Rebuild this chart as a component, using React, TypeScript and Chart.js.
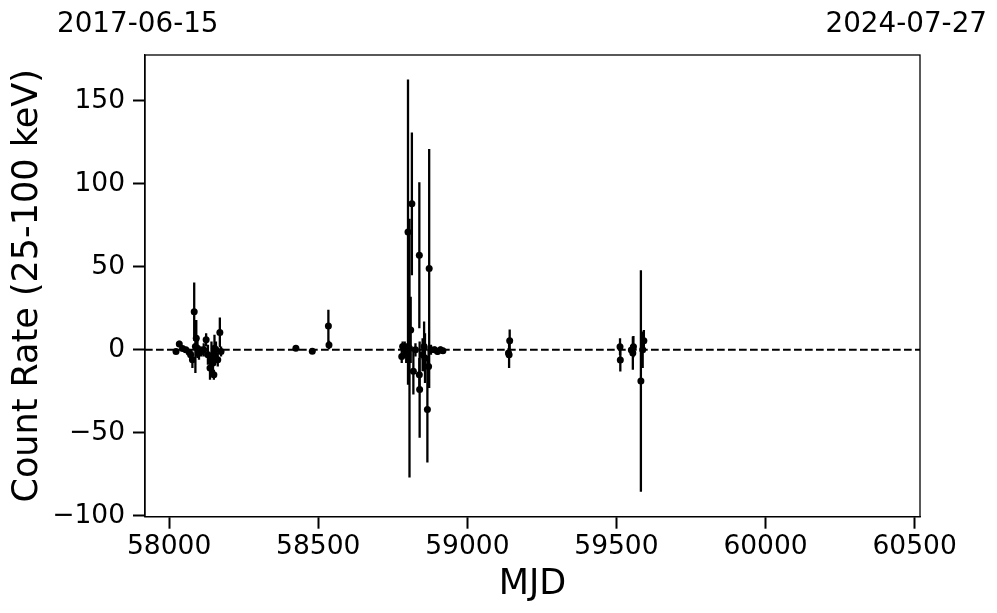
import React, { useEffect, useRef } from "react";
import { Chart, registerables } from "chart.js";

Chart.register(...registerables);

// ---- Data ----
const MJD = [
  58023, 58034, 58045, 58056, 58067, 58072, 58078, 58084, 58088, 58091, 58095, 58100,
  58108, 58116, 58124, 58130, 58137, 58142, 58147, 58150, 58152, 58157, 58163, 58170, 58174,
  58425, 58480, 58534, 58536,
  58780, 58783, 58790, 58795, 58801, 58806, 58810, 58814, 58819, 58826, 58839, 58839,
  58840, 58850, 58855, 58858, 58866, 58872, 58870, 58878, 58890, 58900, 58910, 58918,
  59138, 59140, 59142,
  59512, 59513, 59550, 59555, 59557, 59582, 59588, 59592,
];
const RATE = [
  -1, 3.5, 0.8, 0, -1.5, -3, -6, 23, 2, 7, 1, -2,
  -1, 0, 6, -3, -11, -5, -8, -15, 1, 0, -6, 10.5, -1,
  0.9, -0.8, 14.3, 2.9,
  -4, 2, 0, -2, 71, 1, 12, 88, -13, 0, 57, -15,
  -24, -3, 2, -5, -36, 49, -10, 0, 0, -1, 0, -0.5,
  -2, -3, 5.5,
  1.9, -6.1, -0.1, -2, 1.9, -18.8, 0, 5.5,
];
const ERR = [
  1.5, 2, 1.5, 1.5, 2, 3, 5, 17.5, 16, 11, 6, 4,
  3, 4, 4, 6, 7, 10, 9, 3, 8, 5, 4, 9, 3,
  1, 1, 9.8, 2.5,
  4, 3, 5, 6, 92, 78, 20, 43, 14, 4, 44, 10,
  29, 10, 15, 15, 32, 72, 12, 3, 2, 2, 2, 1.5,
  3, 8, 6.8,
  5, 7, 3, 10, 6.4, 66.7, 11, 6.5,
];
const X_TICKS = [58000, 58500, 59000, 59500, 60000, 60500];
const Y_TICKS = [-100, -50, 0, 50, 100, 150];
const X_RANGE = [57919, 60518];
const Y_RANGE = [-100.6, 177.7];
const DATE_LABELS = ["2017-06-15", "2024-07-27"];
const X_TITLE = "MJD";
const Y_TITLE = "Count Rate (25-100 keV)";

const FONT = "'DejaVu Sans', sans-serif";

const fmt = (v: number) => (v < 0 ? "\u2212" + Math.abs(v) : String(v));

const errorBarPlugin = {
  id: "errorBars",
  beforeDatasetsDraw(chart: any) {
    const { ctx, scales, chartArea } = chart;
    const xs = scales.x;
    const ys = scales.y;
    ctx.save();
    ctx.beginPath();
    ctx.rect(chartArea.left, chartArea.top, chartArea.right - chartArea.left, chartArea.bottom - chartArea.top);
    ctx.clip();
    ctx.strokeStyle = "#000";
    ctx.lineWidth = 2.3;
    ctx.lineCap = "butt";
    for (let i = 0; i < MJD.length; i++) {
      const x = xs.getPixelForValue(MJD[i]);
      const y1 = ys.getPixelForValue(RATE[i] - ERR[i]);
      const y2 = ys.getPixelForValue(RATE[i] + ERR[i]);
      ctx.beginPath();
      ctx.moveTo(x, y1);
      ctx.lineTo(x, y2);
      ctx.stroke();
    }
    ctx.restore();
  },
};

const framePlugin = {
  id: "frame",
  afterDraw(chart: any) {
    const { ctx, chartArea } = chart;
    ctx.save();
    ctx.strokeStyle = "#000";
    ctx.lineWidth = 1.3;
    ctx.strokeRect(chartArea.left, chartArea.top, chartArea.right - chartArea.left, chartArea.bottom - chartArea.top);
    ctx.fillStyle = "#000";
    ctx.font = `27.8px ${FONT}`;
    ctx.textBaseline = "alphabetic";
    ctx.textAlign = "left";
    ctx.fillText(DATE_LABELS[0], 57, 32);
    ctx.textAlign = "right";
    ctx.fillText(DATE_LABELS[1], 987, 32);
    ctx.restore();
  },
};

export default function App() {
  const ref = useRef<HTMLCanvasElement | null>(null);
  useEffect(() => {
    if (!ref.current) return;
    const points = MJD.map((x, i) => ({ x, y: RATE[i] }));
    const chart = new Chart(ref.current, {
      type: "scatter",
      data: {
        datasets: [
          {
            type: "scatter",
            data: points,
            pointRadius: 3.5,
            pointHoverRadius: 3.5,
            pointBackgroundColor: "#000",
            pointBorderWidth: 0,
            borderColor: "#000",
          } as any,
          {
            type: "line",
            data: [
              { x: X_RANGE[0], y: 0 },
              { x: X_RANGE[1], y: 0 },
            ],
            borderColor: "#000",
            borderWidth: 2.1,
            borderDash: [7.7, 3.3],
            pointRadius: 0,
            fill: false,
          } as any,
        ],
      },
      options: {
        animation: false,
        responsive: false,
        devicePixelRatio: 1,
        layout: { padding: { left: 0, top: 55, right: 77, bottom: 0 } },
        plugins: {
          legend: { display: false },
          tooltip: { enabled: false },
        },
        scales: {
          x: {
            type: "linear",
            min: X_RANGE[0],
            max: X_RANGE[1],
            afterBuildTicks: (s: any) => {
              s.ticks = X_TICKS.map((v) => ({ value: v }));
            },
            afterFit: (s: any) => {
              s.height = 613 - 516.7;
            },
            grid: {
              display: true,
              drawOnChartArea: false,
              drawTicks: true,
              tickLength: 12,
              tickWidth: 2,
              tickColor: "#000",
            },
            border: { display: true, color: "#000", width: 1.3 },
            ticks: {
              color: "#000",
              font: { family: FONT, size: 26.5 },
              padding: 3,
              maxRotation: 0,
              autoSkip: false,
              callback: (v: any) => fmt(Number(v)),
            },
            title: {
              display: true,
              text: X_TITLE,
              color: "#000",
              font: { family: FONT, size: 35 },
              padding: { top: 0, bottom: 7 },
            },
          },
          y: {
            type: "linear",
            min: Y_RANGE[0],
            max: Y_RANGE[1],
            afterBuildTicks: (s: any) => {
              s.ticks = Y_TICKS.map((v) => ({ value: v }));
            },
            afterFit: (s: any) => {
              s.width = 145;
            },
            grid: {
              display: true,
              drawOnChartArea: false,
              drawTicks: true,
              tickLength: 12,
              tickWidth: 2,
              tickColor: "#000",
            },
            border: { display: true, color: "#000", width: 1.3 },
            ticks: {
              color: "#000",
              font: { family: FONT, size: 26.5 },
              padding: 8,
              autoSkip: false,
              callback: (v: any) => fmt(Number(v)),
            },
            title: {
              display: true,
              text: Y_TITLE,
              color: "#000",
              font: { family: FONT, size: 35 },
              padding: { top: 7, bottom: 0 },
            },
          },
        },
      },
      plugins: [errorBarPlugin, framePlugin],
    });
    return () => chart.destroy();
  }, []);
  return (
    <div style={{ position: "absolute", left: 0, top: 0, width: 997, height: 613, background: "#fff" }}>
      <canvas ref={ref} width={997} height={613} style={{ width: 997, height: 613 }} />
    </div>
  );
}
